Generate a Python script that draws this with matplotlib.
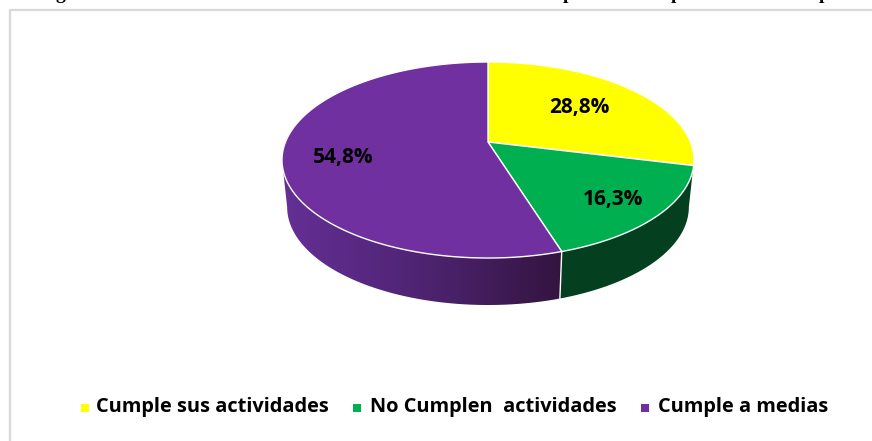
import numpy as np
import matplotlib
matplotlib.use("Agg")
import matplotlib.pyplot as plt
from matplotlib.colors import LinearSegmentedColormap
from matplotlib.patches import Polygon

# Chart data
categories = ["Cumple sus actividades", "No Cumplen  actividades", "Cumple a medias"]
values = [28.8, 16.3, 54.8]
colors = ["#FFFF00", "#00B050", "#7030A0"]

# Title letters that still show at the cropped top edge
title_bits = ["g", "p", "p", "p"]

# Layout in image pixels
W, H = 872, 441
CX, CY = 488, 142
A, B, P = 202.5, 94.7, 0.1837
DEPTH = 47
label_pos = [(579, 108), (613, 199), (343, 158)]
legend_square_x = [85, 357, 645]
legend_text_x = [96, 370, 658]
title_bit_x = [60, 568, 676, 824]


def project(theta, r=1.0, a=A, cy=CY):
    # circle to screen, with a bit of perspective (theta clockwise from top)
    u = r * np.sin(theta)
    v = r * np.cos(theta)
    w = 1 + P * v
    return CX + a * u / w, cy - B * v / w


fig = plt.figure(figsize=(W / 100, H / 100), dpi=100, facecolor="white")
ax = fig.add_axes([0, 0, 1, 1])
ax.set_xlim(0, W)
ax.set_ylim(H, 0)
ax.axis("off")

# Frame of the chart area, cut off by the image at right and bottom
ax.plot([10, 10, W + 5], [H - 1, 9.5, 9.5], color="#D9D9D9", lw=1.6)

# Side wall
edges = np.cumsum([0] + values) / sum(values) * 2 * np.pi
t_right = np.arccos(-P)
t_left = 2 * np.pi - t_right


def wall_poly(t0, t1):
    t = np.linspace(t0, t1, 150)
    x1, y1 = project(t)
    x2, y2 = project(t, a=A * 0.975, cy=CY + DEPTH)
    return np.column_stack([np.r_[x1, x2[::-1]], np.r_[y1, y2[::-1]]])


green_wall = Polygon(wall_poly(t_right, edges[2]), fc="#04401F", ec="none")
ax.add_patch(green_wall)

purple_cmap = LinearSegmentedColormap.from_list("wall", ["#652F95", "#4E2472", "#33143F"])
purple_wall = Polygon(wall_poly(edges[2], t_left), fc="none", ec="none", transform=ax.transData)
ax.add_patch(purple_wall)
grad = np.linspace(0, 1, 256).reshape(1, -1)
im = ax.imshow(grad, cmap=purple_cmap, extent=[282, 562, 310, 150], aspect="auto", zorder=1)
im.set_clip_path(purple_wall)
ax.set_xlim(0, W)
ax.set_ylim(H, 0)

# Seam between the two visible wall pieces
seam_x, seam_y = project(edges[2])
seam_x2, seam_y2 = project(edges[2], a=A * 0.975, cy=CY + DEPTH)
ax.plot([seam_x, seam_x2], [seam_y, seam_y2], color="white", lw=1, zorder=2)

# Top face
for i, c in enumerate(colors):
    t = np.linspace(edges[i], edges[i + 1], 200)
    x, y = project(t)
    pts = np.column_stack([np.r_[CX, x], np.r_[CY, y]])
    ax.add_patch(Polygon(pts, fc=c, ec="white", lw=1, joinstyle="round", zorder=3))

# Percent labels
for v, (lx, ly) in zip(values, label_pos):
    ax.text(lx, ly, f"{v:.1f}".replace(".", ",") + "%", ha="center", va="center",
            fontsize=15, fontweight="bold", family="Open Sans", color="black", zorder=4)

# Legend
for name, c, sx, tx in zip(categories, colors, legend_square_x, legend_text_x):
    ax.plot([sx], [408], marker="s", ms=5.6, mfc=c, mec=c, mew=0, ls="none")
    ax.text(tx, 407, name, ha="left", va="center", fontsize=14.4,
            fontweight="bold", family="Open Sans", color="black")

# Bottoms of the title letters, the rest is outside the image
for ch, x in zip(title_bits, title_bit_x):
    ax.text(x, -1, ch, ha="center", va="baseline", fontsize=14, fontweight="bold",
            family="Liberation Serif", color="black")

fig.savefig("out.png", dpi=100)
plt.close(fig)
